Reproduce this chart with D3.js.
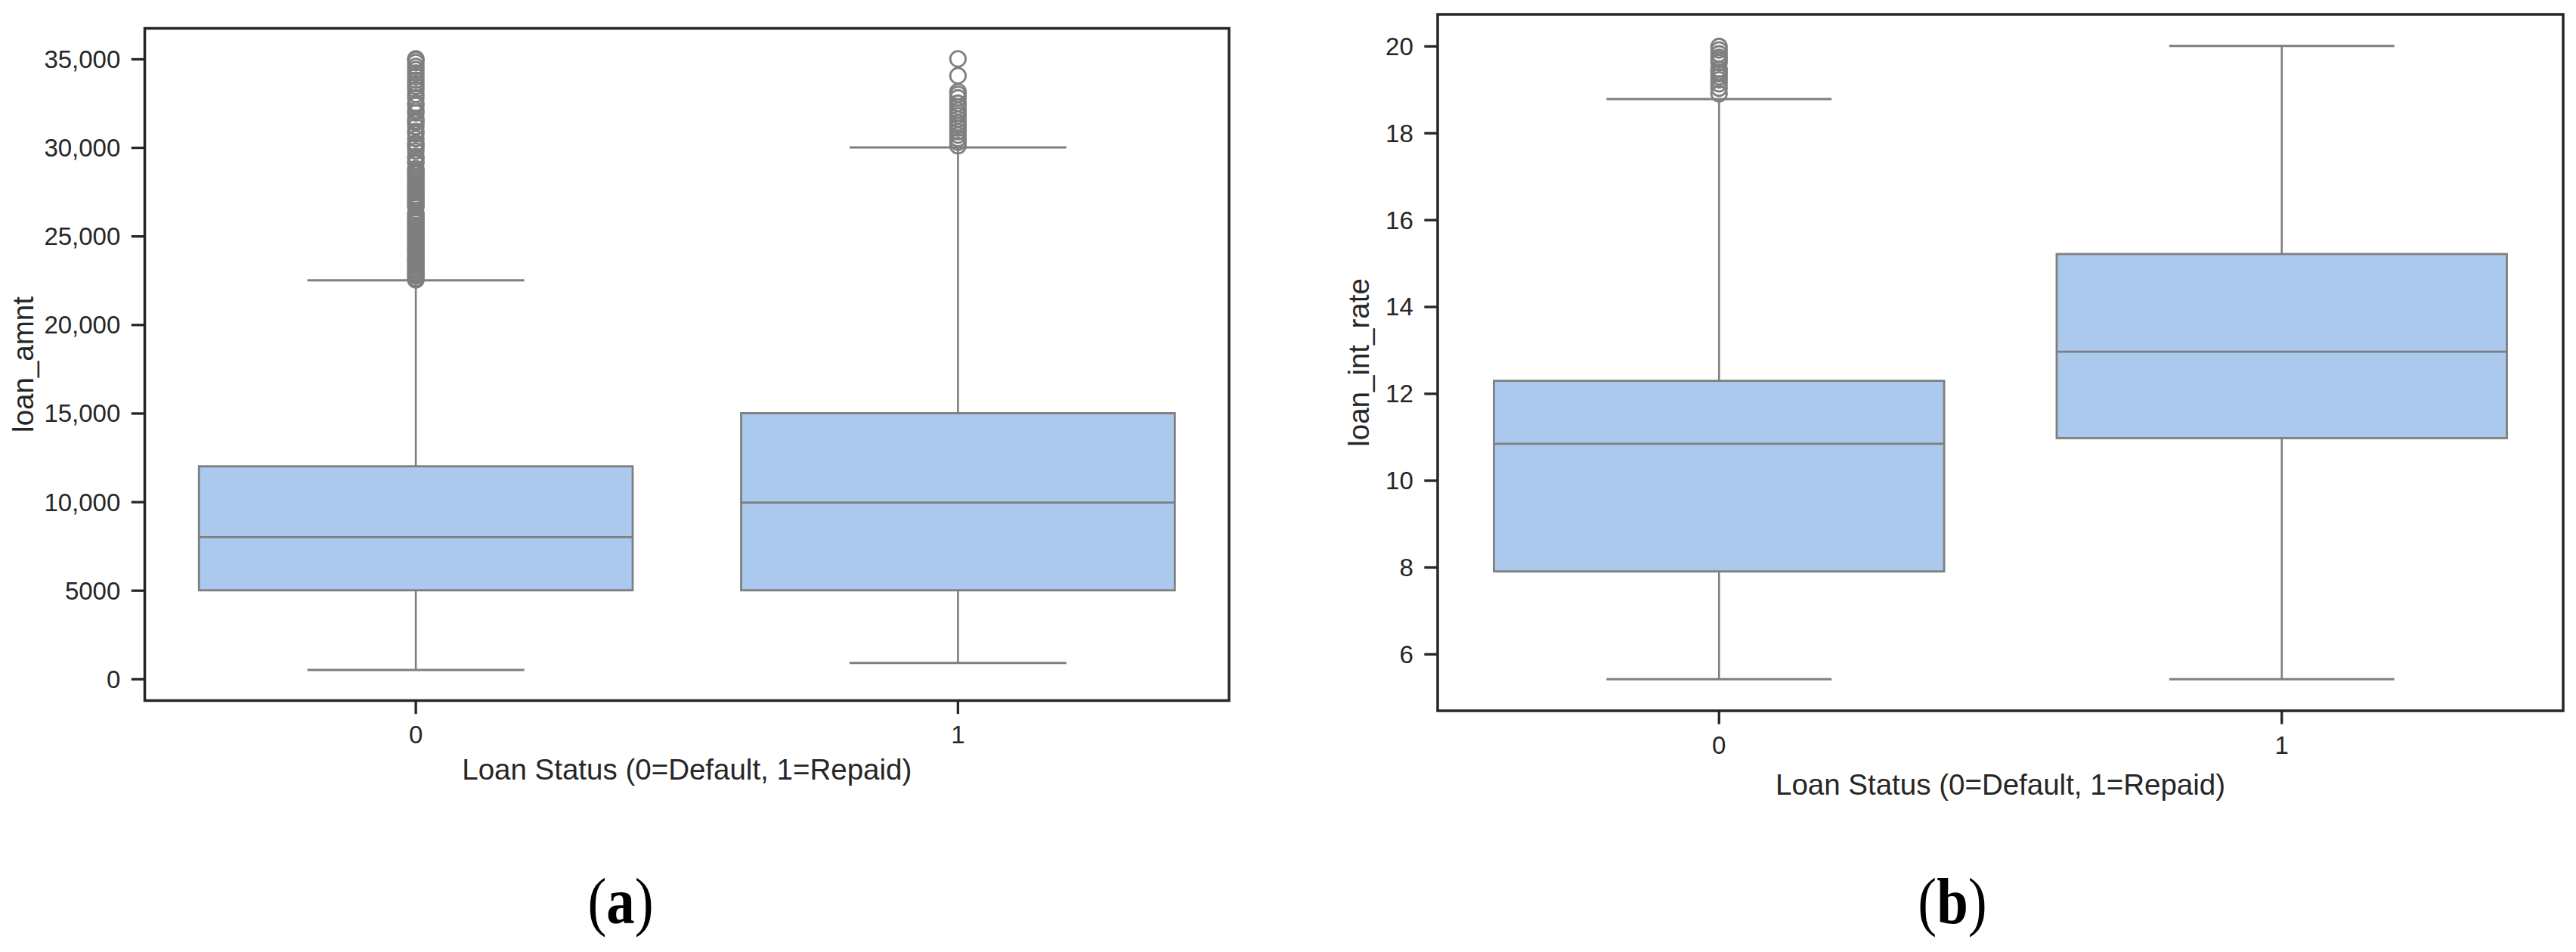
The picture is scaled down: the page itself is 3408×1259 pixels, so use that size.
<!DOCTYPE html>
<html>
<head>
<meta charset="utf-8">
<script src="https://cdn.jsdelivr.net/npm/d3@7"></script>
<style>
  html, body { margin: 0; padding: 0; background: #ffffff; }
  svg { display: block; }
</style>
</head>
<body>
<svg id="chart" width="3408" height="1259"></svg>
<script>
// ---------------- DATA ----------------
const categories = ["0", "1"];

// Panel (a): loan_amnt
const amntWhiskerLow  = [500, 900];
const amntQ1          = [5000, 5000];
const amntMedian      = [8000, 9950];
const amntQ3          = [12000, 15000];
const amntWhiskerHigh = [22500, 30000];
const amntOutliers0 = [22525, 22600, 22750, 22800, 22875, 23000, 23100, 23200, 23325, 23400,
  23500, 23600, 23675, 23750, 23875, 24000, 24100, 24200, 24250, 24375, 24500, 24600, 24700,
  24800, 24925, 25000, 25100, 25200, 25300, 25450, 25550, 25600, 25750, 25825, 25950, 26000,
  26100, 26200, 26300, 26650, 26700, 26800, 26950, 27000, 27100, 27200, 27300, 27450, 27500,
  27625, 27750, 27850, 28000, 28100, 28225, 28350, 28500, 28575, 28700, 28800, 29100, 29200,
  29400, 29500, 29800, 30000, 30150, 30250, 30500, 30775, 30900, 31175, 31400, 31500, 31650,
  31950, 32100, 32375, 32500, 32800, 33000, 33250, 33450, 33600, 33800, 34000, 34200, 34400,
  34575, 34800, 34950, 35000];
const amntOutliers1 = [30100, 30300, 30500, 30700, 30900, 31100, 31250, 31400, 31600, 31800,
  31950, 32100, 32300, 32500, 32800, 33000, 33150, 34050, 35000];
const amntTicks = [0, 5000, 10000, 15000, 20000, 25000, 30000, 35000];
const amntTickLabels = ["0", "5000", "10,000", "15,000", "20,000", "25,000", "30,000", "35,000"];

// Panel (b): loan_int_rate
const rateWhiskerLow  = [5.42, 5.42];
const rateQ1          = [7.9, 10.97];
const rateMedian      = [10.84, 12.96];
const rateQ3          = [12.29, 15.21];
const rateWhiskerHigh = [18.78, 20.0];
const rateOutliers0 = [18.9, 19.03, 19.13, 19.22, 19.29, 19.36, 19.41, 19.47, 19.62, 19.69,
  19.74, 19.82, 19.91, 19.99];
const rateOutliers1 = [];
const rateTicks = [6, 8, 10, 12, 14, 16, 18, 20];
const rateTickLabels = ["6", "8", "10", "12", "14", "16", "18", "20"];

const xLabel = "Loan Status (0=Default, 1=Repaid)";

// ---------------- STYLE ----------------
const TEXT = "#262626";
const FRAME = "#262626";
const BOXFILL = "#abc9ec";
const GRAY = "#7f7f7f";
const SANS = "'Liberation Sans', Arial, Helvetica, sans-serif";
const SERIF = "'Liberation Serif', 'Times New Roman', serif";

const svg = d3.select("#chart");
svg.append("rect").attr("width", 3408).attr("height", 1259).attr("fill", "#fff");

function drawPanel(cfg) {
  const { left, right, top, bottom } = cfg;
  const g = svg.append("g");

  // y domain like matplotlib: data extent + 5% margins
  const allVals = cfg.whiskerLow.concat(cfg.whiskerHigh, cfg.outliers[0], cfg.outliers[1]);
  const lo = d3.min(allVals), hi = d3.max(allVals);
  const pad = (hi - lo) * 0.05;
  const y = d3.scaleLinear().domain([lo - pad, hi + pad]).range([bottom, top]);
  const x = d3.scaleBand().domain(categories).range([left, right])
    .paddingInner(0.2).paddingOuter(0.1);
  const bw = x.bandwidth();

  // boxes
  categories.forEach((c, i) => {
    const cx = x(c) + bw / 2;
    const bg = g.append("g");
    // whiskers
    bg.append("line").attr("x1", cx).attr("x2", cx)
      .attr("y1", y(cfg.q1[i])).attr("y2", y(cfg.whiskerLow[i]))
      .attr("stroke", GRAY).attr("stroke-width", 2.6);
    bg.append("line").attr("x1", cx).attr("x2", cx)
      .attr("y1", y(cfg.q3[i])).attr("y2", y(cfg.whiskerHigh[i]))
      .attr("stroke", GRAY).attr("stroke-width", 2.6);
    // caps
    [cfg.whiskerLow[i], cfg.whiskerHigh[i]].forEach(v => {
      bg.append("line").attr("x1", cx - bw / 4).attr("x2", cx + bw / 4)
        .attr("y1", y(v)).attr("y2", y(v))
        .attr("stroke", GRAY).attr("stroke-width", 3);
    });
    // box
    bg.append("rect").attr("x", x(c)).attr("width", bw)
      .attr("y", y(cfg.q3[i])).attr("height", y(cfg.q1[i]) - y(cfg.q3[i]))
      .attr("fill", BOXFILL).attr("stroke", GRAY).attr("stroke-width", 2.8);
    // median
    bg.append("line").attr("x1", x(c)).attr("x2", x(c) + bw)
      .attr("y1", y(cfg.median[i])).attr("y2", y(cfg.median[i]))
      .attr("stroke", GRAY).attr("stroke-width", 2.8);
    // outliers
    bg.selectAll("circle.o").data(cfg.outliers[i]).enter().append("circle")
      .attr("class", "o")
      .attr("cx", cx).attr("cy", d => y(d)).attr("r", 10.2)
      .attr("fill", "none").attr("stroke", GRAY).attr("stroke-width", 2.8);
  });

  // y axis
  const yAxis = d3.axisLeft(y).tickValues(cfg.ticks)
    .tickFormat((d, i) => cfg.tickLabels[i]).tickSize(17.7).tickPadding(14.5);
  const ya = g.append("g").attr("transform", `translate(${left},0)`).call(yAxis);
  ya.select(".domain").remove();
  ya.selectAll(".tick line").attr("stroke", FRAME).attr("stroke-width", 3.3);
  ya.selectAll(".tick text").attr("fill", TEXT)
    .style("font-family", SANS).style("font-size", "33px").attr("dy", "0.35em");

  // x axis
  const xAxis = d3.axisBottom(x).tickSize(17.7).tickPadding(14.5);
  const xa = g.append("g").attr("transform", `translate(0,${bottom})`).call(xAxis);
  xa.select(".domain").remove();
  xa.selectAll(".tick line").attr("stroke", FRAME).attr("stroke-width", 3.3);
  xa.selectAll(".tick text").attr("fill", TEXT)
    .style("font-family", SANS).style("font-size", "33px").attr("dy", "0.75em");

  // frame
  g.append("rect").attr("x", left).attr("y", top)
    .attr("width", right - left).attr("height", bottom - top)
    .attr("fill", "none").attr("stroke", FRAME).attr("stroke-width", 3.5);

  // axis labels
  g.append("text").attr("x", (left + right) / 2).attr("y", bottom + cfg.xLabelOffset)
    .attr("text-anchor", "middle").attr("fill", TEXT)
    .style("font-family", SANS).style("font-size", "38.5px").text(xLabel);
  g.append("text")
    .attr("transform", `translate(${cfg.yLabelX},${(top + bottom) / 2}) rotate(-90)`)
    .attr("text-anchor", "middle").attr("fill", TEXT)
    .style("font-family", SANS).style("font-size", "38.5px").text(cfg.yLabel);

  // caption
  const cap = svg.append("text")
    .attr("transform", `translate(${cfg.captionX},1221) scale(0.87,1)`)
    .attr("text-anchor", "middle").attr("fill", "#000")
    .style("font-family", SERIF).style("font-size", "86px");
  cap.append("tspan").text("(");
  cap.append("tspan").style("font-weight", "bold").text(cfg.caption);
  cap.append("tspan").text(")");
}

drawPanel({
  left: 191.5, right: 1626, top: 37.5, bottom: 926.5,
  whiskerLow: amntWhiskerLow, q1: amntQ1, median: amntMedian, q3: amntQ3,
  whiskerHigh: amntWhiskerHigh, outliers: [amntOutliers0, amntOutliers1],
  ticks: amntTicks, tickLabels: amntTickLabels,
  yLabel: "loan_amnt", yLabelX: 44, caption: "a", captionX: 821, xLabelOffset: 104
});

drawPanel({
  left: 1902, right: 3391, top: 19, bottom: 940,
  whiskerLow: rateWhiskerLow, q1: rateQ1, median: rateMedian, q3: rateQ3,
  whiskerHigh: rateWhiskerHigh, outliers: [rateOutliers0, rateOutliers1],
  ticks: rateTicks, tickLabels: rateTickLabels,
  yLabel: "loan_int_rate", yLabelX: 1811, caption: "b", captionX: 2583, xLabelOffset: 111
});
</script>
</body>
</html>
